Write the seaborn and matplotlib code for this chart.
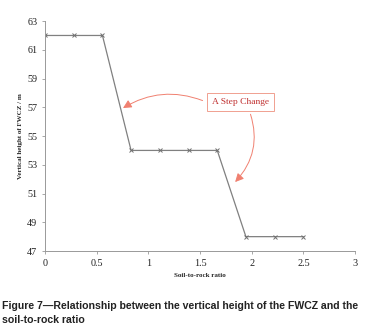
import matplotlib
matplotlib.use("Agg")
import matplotlib.pyplot as plt
import seaborn as sns
import pandas as pd

ratio = [0, 0.278, 0.556, 0.833, 1.111, 1.389, 1.667, 1.944, 2.222, 2.5]
height = [62, 62, 62, 54, 54, 54, 54, 48, 48, 48]
x_ticks = [0, 0.5, 1, 1.5, 2, 2.5, 3]
x_tick_labels = ["0", "0.5", "1", "1.5", "2", "2.5", "3"]
y_ticks = [47, 49, 51, 53, 55, 57, 59, 61, 63]

sns.set_style("ticks")
plt.rcParams['font.family'] = ['Liberation Serif', 'DejaVu Serif']

df = pd.DataFrame({"ratio": ratio, "height": height})

fig = plt.figure(figsize=(3.7, 3.35), dpi=100)
ax = fig.add_axes([0.1216, 0.2507, 0.8379, 0.6863])
sns.lineplot(data=df, x="ratio", y="height", ax=ax, color="#808080", lw=0.9,
             marker="x", markersize=3.5, markeredgewidth=0.7, markeredgecolor="#707070")

ax.set_xlim(0, 3)
ax.set_ylim(47, 63)
ax.set_xticks(x_ticks)
ax.set_xticklabels(x_tick_labels)
ax.set_yticks(y_ticks)
ax.tick_params(labelsize=7.3, length=2.5, width=0.6, color="#999999", pad=3, labelcolor="#222222")
for s in ["left", "bottom"]:
    ax.spines[s].set_color("#999999")
    ax.spines[s].set_linewidth(0.7)
sns.despine(ax=ax)

ax.set_xlabel("Soil-to-rock ratio", fontsize=5, fontweight="bold", labelpad=4)
ax.set_ylabel("Vertical height of FWCZ / m", fontsize=5, fontweight="bold", labelpad=3)

box = dict(boxstyle="square,pad=0.5", fc="white", ec="#f0a090", lw=0.7)
ax.annotate("", xy=(0.755, 56.95), xytext=(1.55, 57.4),
            arrowprops=dict(arrowstyle="-|>,head_length=0.5,head_width=0.25", color="#f08070",
                            lw=0.7, connectionstyle="arc3,rad=0.25", shrinkB=0))
ax.annotate("", xy=(1.84, 51.8), xytext=(1.98, 56.7),
            arrowprops=dict(arrowstyle="-|>,head_length=0.5,head_width=0.25", color="#f08070",
                            lw=0.7, connectionstyle="arc3,rad=-0.3", shrinkB=0))
ax.text(1.89, 57.37, "A Step Change", fontsize=6.8, color="#c03030",
        ha="center", va="center", bbox=box)

fig.text(0.006, 0.066, "Figure 7\u2014Relationship between the vertical height of the FWCZ and the\nsoil-to-rock ratio",
         family=["Liberation Sans", "DejaVu Sans"], fontsize=7.6, fontweight="bold",
         color="#222222", ha="left", va="center", linespacing=1.5)

fig.savefig("out.png", dpi=100)
